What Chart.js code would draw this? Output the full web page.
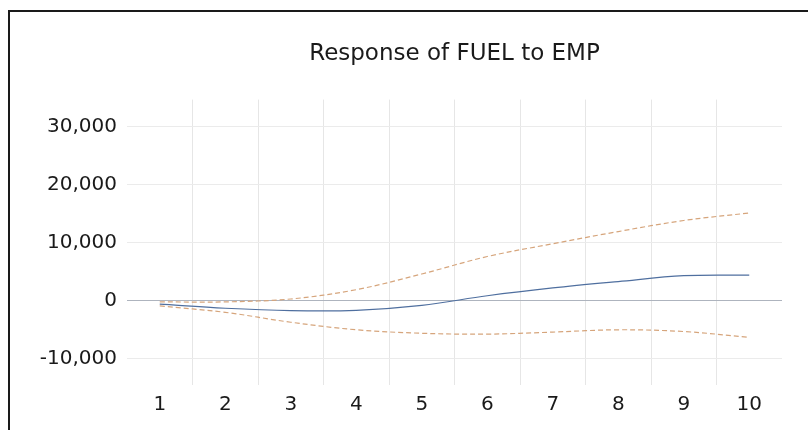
<!DOCTYPE html>
<html lang="en">
<head>
    <meta charset="UTF-8">
    <title>Response of FUEL to EMP</title>
    <script src="https://cdn.jsdelivr.net/npm/chart.js@4.4.0/dist/chart.umd.min.js"></script>
    <style>
        html, body {
            margin: 0;
            padding: 0;
            background: #ffffff;
        }

        .wrap {
            position: relative;
            width: 808px;
            height: 430px;
            overflow: hidden;
        }

        .frame {
            position: absolute;
            left: 8px;
            top: 10px;
            width: 900px;
            height: 500px;
            border-left: 2px solid #1a1a1a;
            border-top: 2px solid #1a1a1a;
            pointer-events: none;
        }
    </style>
</head>
<body>
    <div class="wrap">
        <canvas id="irfChart" width="808" height="430"></canvas>
        <div class="frame"></div>
    </div>

    <script>
        // periods after the shock
        const periods = ['1', '2', '3', '4', '5', '6', '7', '8', '9', '10'];

        // impulse response and +/- 2 s.e. bands
        const response = [-600, -1300, -1700, -1650, -800, 850, 2200, 3300, 4300, 4400];
        const upperBand = [-200, -200, 300, 1900, 4600, 7600, 9800, 11900, 13800, 15100];
        const lowerBand = [-900, -2000, -3700, -5000, -5600, -5750, -5400, -5000, -5300, -6300];

        const yTicks = [-10000, 0, 10000, 20000, 30000];

        const fontFamily = '"DejaVu Sans", sans-serif';

        // centre the title over the plot area instead of the whole canvas
        const titleOverPlot = {
            id: 'titleOverPlot',
            afterLayout(chart) {
                const tb = chart.titleBlock;
                if (!tb) return;
                tb.left = chart.chartArea.left;
                tb.right = chart.chartArea.right;
                tb.width = tb.right - tb.left;
            }
        };

        new Chart(document.getElementById('irfChart'), {
            type: 'line',
            data: {
                labels: periods,
                datasets: [
                    {
                        label: 'Response',
                        data: response,
                        borderColor: '#4f6f9f',
                        borderWidth: 1.2,
                        pointRadius: 0,
                        tension: 0.35,
                        fill: false
                    },
                    {
                        label: 'Upper',
                        data: upperBand,
                        borderColor: '#d6a57c',
                        borderWidth: 1.2,
                        borderDash: [5, 3],
                        pointRadius: 0,
                        tension: 0.35,
                        fill: false
                    },
                    {
                        label: 'Lower',
                        data: lowerBand,
                        borderColor: '#d6a57c',
                        borderWidth: 1.2,
                        borderDash: [5, 3],
                        pointRadius: 0,
                        tension: 0.35,
                        fill: false
                    }
                ]
            },
            options: {
                responsive: false,
                animation: false,
                layout: {
                    padding: { left: 0, right: 26, top: 0, bottom: 0 }
                },
                plugins: {
                    legend: { display: false },
                    tooltip: { enabled: false },
                    title: {
                        display: true,
                        text: 'Response of FUEL to EMP',
                        color: '#1a1a1a',
                        font: { family: fontFamily, size: 23, weight: 'normal' },
                        padding: { top: 40, bottom: 32 }
                    }
                },
                scales: {
                    x: {
                        offset: true,
                        grid: {
                            offset: true,
                            drawTicks: false,
                            color: ctx => (ctx.type !== 'tick' || ctx.index === 0) ? 'rgba(0,0,0,0)' : '#e6e6e6'
                        },
                        border: { display: false },
                        ticks: {
                            color: '#1a1a1a',
                            padding: 8,
                            font: { family: fontFamily, size: 20 }
                        },
                        afterFit: scale => { scale.height = 45; }
                    },
                    y: {
                        min: -14500,
                        max: 34600,
                        afterBuildTicks: scale => {
                            scale.ticks = yTicks.map(v => ({ value: v }));
                        },
                        grid: {
                            drawTicks: false,
                            color: ctx => (ctx.tick && ctx.tick.value === 0) ? '#aeb4be' : '#ebebeb'
                        },
                        border: { display: false },
                        ticks: {
                            color: '#1a1a1a',
                            padding: 10,
                            font: { family: fontFamily, size: 20 },
                            callback: v => v.toLocaleString('en-US')
                        },
                        afterFit: scale => { scale.width = 127; }
                    }
                }
            },
            plugins: [titleOverPlot]
        });
    </script>
</body>
</html>
